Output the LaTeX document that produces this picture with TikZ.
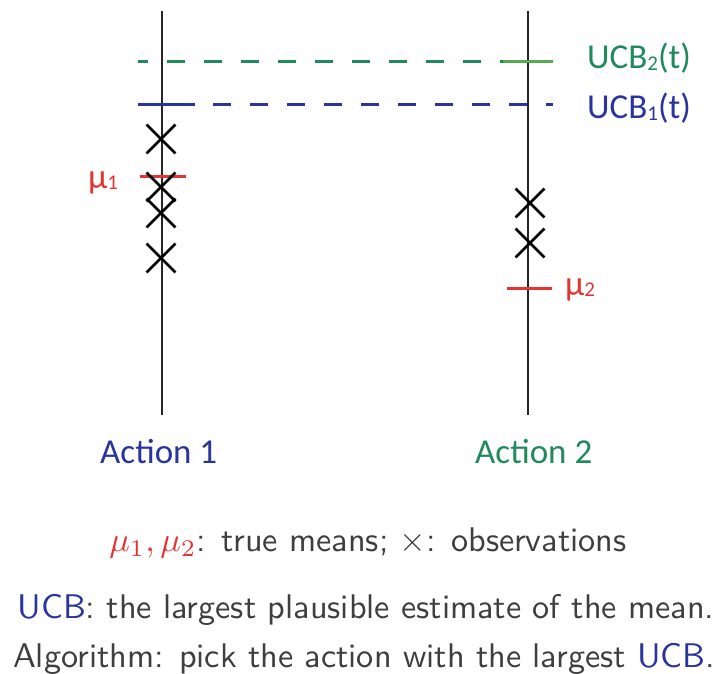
\documentclass[tikz,border=0pt]{standalone}
\usepackage{fontspec}
\newfontfamily\calib{Carlito}
\usepackage{tikz}
\usetikzlibrary{positioning,shapes.misc}
\definecolor{ucbred}{RGB}{228,52,50}
\definecolor{ucbgreen}{RGB}{32,138,92}
\definecolor{ucblite}{RGB}{86,170,80}
\definecolor{ucbblue}{RGB}{42,52,158}
\definecolor{capgray}{RGB}{62,62,62}
\newcommand{\lowdig}[1]{\raisebox{-1.5pt}{\fontsize{21}{21}\selectfont #1}}
\newcommand{\capbox}[1]{\scalebox{3.42}{#1}}

\begin{document}
\begin{tikzpicture}[x=1pt, y=-1pt,
  axis/.style={line width=2.6pt, draw=black!85},
  tick/.style={line width=3pt},
  bound/.style={line width=3pt, dash pattern=on 18pt off 19pt},
  obs/.style={cross out, draw=black, line width=2.8pt, minimum size=26pt, inner sep=0pt},
  lbl/.style={font=\calib\fontsize{35}{40}\selectfont, inner sep=0pt, anchor=base west},
  capline/.style={font=\sffamily\fontsize{10}{12}\selectfont, text=capgray, inner sep=0pt, anchor=base}]
\useasboundingbox (0,0) rectangle (728,674);
\def\xa{162}\def\xb{528}\def\yt{11}\def\yb{415}
\coordinate (aonetop) at (\xa,\yt); \coordinate (aonebot) at (\xa,\yb);
\coordinate (atwotop) at (\xb,\yt); \coordinate (atwobot) at (\xb,\yb);
\draw[axis] (aonetop) -- (aonebot);
\draw[axis] (atwotop) -- (atwobot);
\draw[bound, draw=ucbgreen, dash phase=8pt] (138,62) -- (503,62);
\draw[tick, ucblite] (503,62) -- (553,62);
\draw[tick, ucbblue] (138,105) -- (195,105);
\draw[bound, draw=ucbblue, dash phase=19pt] (195,105) -- (553,105);
\draw[tick, ucbred] (140,176) -- (186,176);
\draw[tick, ucbred] (507,288) -- (552,288);
\foreach \yy in {139,187,213,258} \node[obs] (obsa\yy) at (161,\yy) {};
\foreach \yy in {203,243} \node[obs] (obsb\yy) at (530,\yy) {};
\node[lbl, text=ucbgreen] (ucbtwo) at (587,69) {UCB\lowdig{2}(t)};
\node[lbl, text=ucbblue] (ucbone) at (587,119) {UCB\lowdig{1}(t)};
\node[lbl, text=ucbred] (muone) at (88,188) {μ\lowdig{1}};
\node[lbl, text=ucbred] (mutwo) at (565,295) {μ\lowdig{2}};
\node[lbl, text=ucbblue] (actone) at (100,463) {Action 1};
\node[lbl, text=ucbgreen] (acttwo) at (475,463) {Action 2};
\node[capline] (legend) at (368,551) {\capbox{\textcolor{ucbred}{$\mu_1,\mu_2$}: true means; $\times$: observations}};
\node[capline] (ucbdef) at (366,618) {\capbox{\textcolor{ucbblue}{UCB}: the largest plausible estimate of the mean.}};
\node[capline] (algo) at (364,667) {\capbox{Algorithm: pick the action with the largest \textcolor{ucbblue}{UCB}.}};
\end{tikzpicture}
\end{document}
